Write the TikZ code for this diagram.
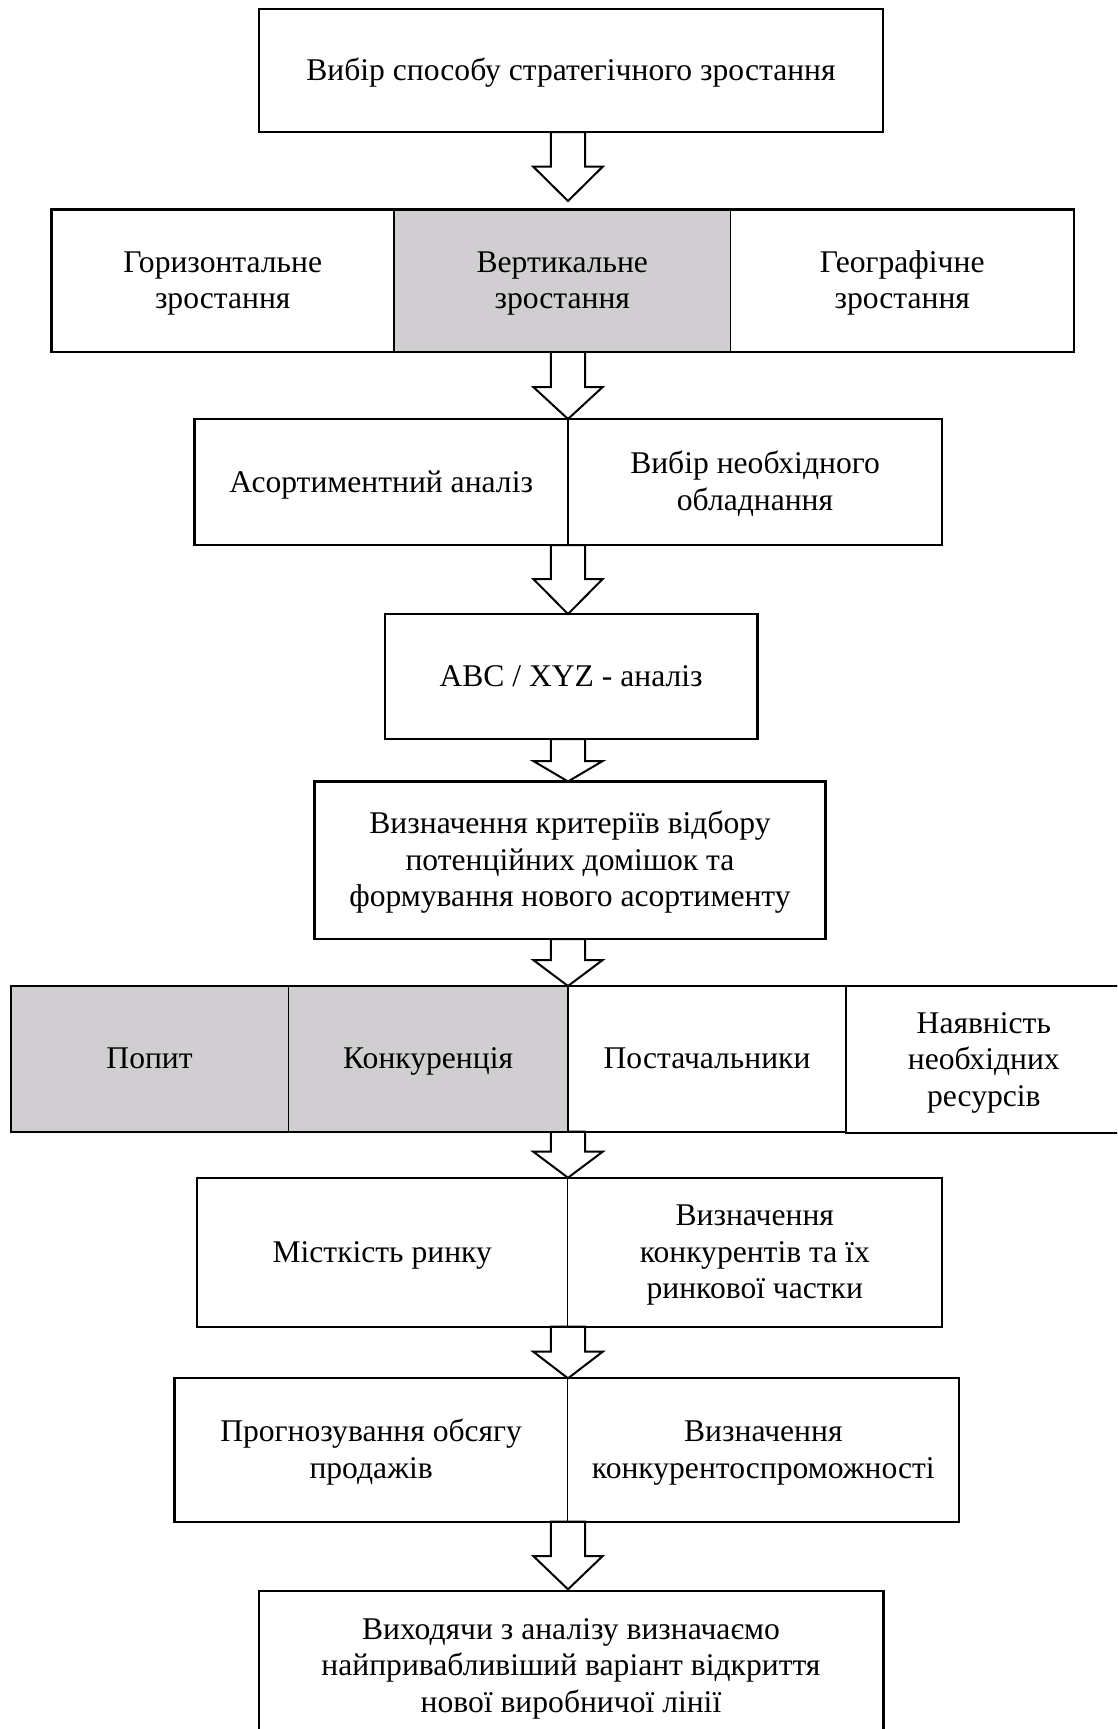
\documentclass[tikz,border=0pt]{standalone}
\usepackage{fontspec}
\setmainfont{Liberation Serif}
\usetikzlibrary{calc,backgrounds}
\definecolor{cellgray}{RGB}{208,206,208}
\newcommand\ws{\rule[-8.2pt]{0pt}{36.4pt}}
\newcommand\blockarr[4]{%
  \coordinate (tmpT) at ($(#2.north -| ax)+(0,-#4)$);
  \coordinate (tmpS) at (#1.south -| ax);
  \draw[barrow] ($(tmpS)+(-17.2,0)$) -- ($(tmpT)+(-17.2,-#3)$) -- ($(tmpT)+(-34.7,-#3)$) -- (tmpT)
    -- ($(tmpT)+(34.7,-#3)$) -- ($(tmpT)+(17.2,-#3)$) -- ($(tmpS)+(17.2,0)$) -- cycle;}
\begin{document}
\begin{tikzpicture}[x=1pt,y=-1pt,
  cell/.style={draw, line width=1.3pt, inner sep=0pt, outer sep=0pt, align=center, anchor=north west,
    font=\fontsize{31.6}{36.4}\selectfont},
  outer/.style={draw, line width=2.2pt},
  barrow/.style={draw, line width=2pt, fill=white, line join=miter}]
\useasboundingbox (0,0) rectangle (1117,1729);
\clip (0,0) rectangle (1117,1729);
\coordinate (ax) at (568,0);

% row 1
\node[cell, minimum width=624, minimum height=123] (b1) at (259,9) {\ws Вибір способу стратегічного зростання};
\draw[outer] (b1.north west) rectangle (b1.south east);

% row 2
\node[cell, minimum width=342.5, minimum height=142.2] (b2a) at (51.5,209.5) {\ws Горизонтальне\\\ws зростання};
\node[cell, fill=cellgray, minimum width=336.5, minimum height=142.2] (b2b) at (394,209.5) {\ws Вертикальне\\\ws зростання};
\node[cell, minimum width=343.5, minimum height=142.2] (b2c) at (730.5,209.5) {\ws Географічне\\\ws зростання};
\draw[outer] (b2a.north west) rectangle (b2c.south east);

% row 3
\node[cell, minimum width=373.5, minimum height=126] (b3a) at (194.5,419) {\ws Асортиментний аналіз};
\node[cell, minimum width=374, minimum height=126] (b3b) at (568,419) {\ws Вибір необхідного\\\ws обладнання};
\draw[outer] (b3a.north west) rectangle (b3b.south east);

% row 4
\node[cell, minimum width=372.8, minimum height=125] (b4) at (384.7,614) {\ws ABC / XYZ - аналіз};
\draw[outer] (b4.north west) rectangle (b4.south east);

% row 5
\node[cell, minimum width=511, minimum height=157.5] (b5) at (314.5,781.5) {\ws Визначення критеріїв відбору\\\ws потенційних домішок та\\\ws формування нового асортименту};
\draw[outer] (b5.north west) rectangle (b5.south east);

% row 6
\node[cell, fill=cellgray, minimum width=277.8, minimum height=145.7] (b6a) at (10.7,986) {\ws Попит};
\node[cell, fill=cellgray, minimum width=279.3, minimum height=145.7] (b6b) at (288.5,986) {\ws Конкуренція};
\node[cell, minimum width=278.5, minimum height=145.7] (b6c) at (567.8,986) {\ws Постачальники};
\node[cell, minimum width=275, minimum height=147.3] (b6d) at (846.3,986) {\ws Наявність\\\ws необхідних\\\ws ресурсів};
\draw[outer] (b6a.north west) rectangle (b6b.south east);
\draw[outer] (b6c.north west) rectangle (b6c.south east);
\draw[outer] (b6d.north west) rectangle (b6d.south east);

% row 7
\node[cell, minimum width=371.2, minimum height=149] (b7a) at (196.6,1177.7) {\ws Місткість ринку};
\node[cell, minimum width=374, minimum height=149] (b7b) at (567.8,1177.7) {\ws Визначення\\\ws конкурентів та їх\\\ws ринкової частки};
\draw[outer] (b7a.north west) rectangle (b7b.south east);

% row 8
\node[cell, minimum width=393.3, minimum height=143.4] (b8a) at (174.5,1378.3) {\ws Прогнозування обсягу\\\ws продажів};
\node[cell, minimum width=391.1, minimum height=143.4] (b8b) at (567.8,1378.3) {\ws Визначення\\\ws конкурентоспроможності};
\draw[outer] (b8a.north west) rectangle (b8b.south east);

% row 9
\node[cell, minimum width=624.8, minimum height=150] (b9) at (258.6,1590.7) {\ws Виходячи з аналізу визначаємо\\\ws найпривабливіший варіант відкриття\\\ws нової виробничої лінії};
\draw[outer] (b9.north west) rectangle (b9.south east);

% block arrows
\begin{scope}[on background layer]
\blockarr{b1}{b2b}{34.3}{8.5}
\blockarr{b2b}{b3a}{32}{0}
\blockarr{b3a}{b4}{35}{0}
\blockarr{b4}{b5}{20.5}{0}
\blockarr{b5}{b6b}{26}{0}
\blockarr{b6b}{b7a}{26}{0}
\blockarr{b7a}{b8a}{26.6}{0}
\blockarr{b8a}{b9}{33.3}{1.4}
\end{scope}
\end{tikzpicture}
\end{document}
